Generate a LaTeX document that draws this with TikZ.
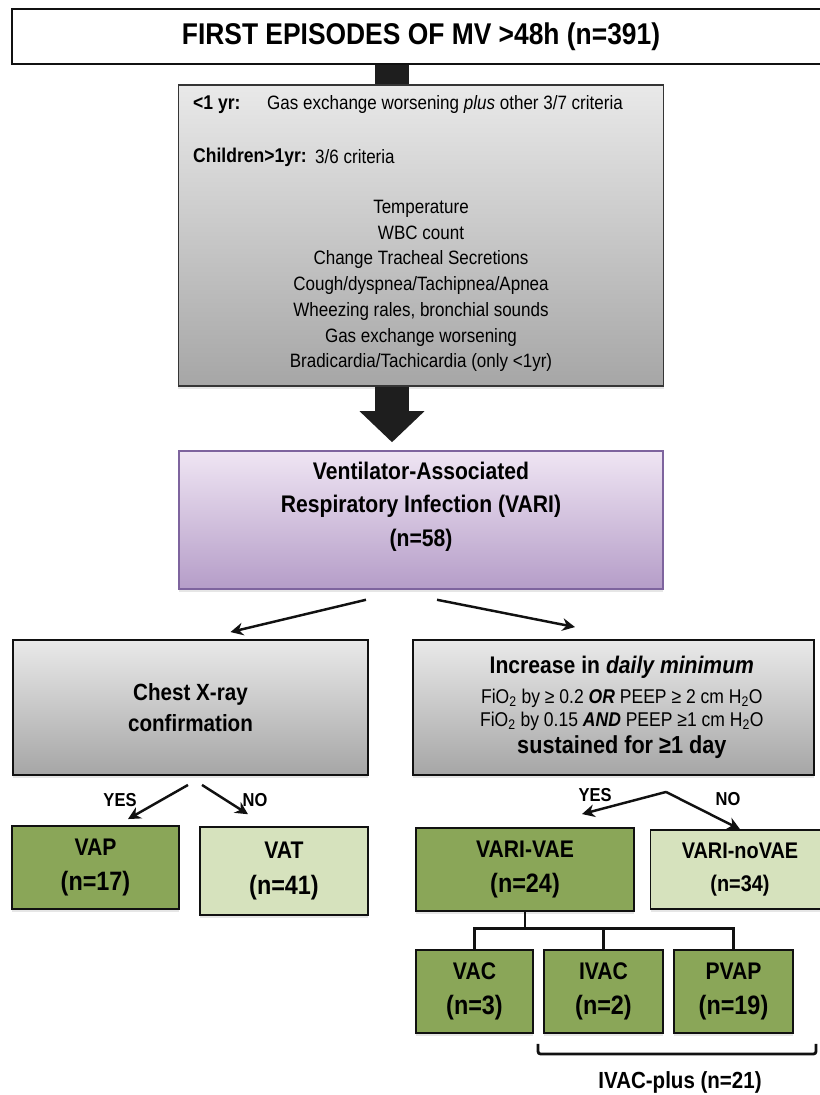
\documentclass[tikz,border=0pt]{standalone}
\usepackage{fontspec}
\setmainfont{Liberation Sans}[FakeStretch=0.88]
\usepackage{tikz}
\usepackage{xcolor}
\usetikzlibrary{arrows.meta,positioning,calc,shadows}
\definecolor{ink}{HTML}{111111}
\definecolor{arrowink}{HTML}{1E1E1E}
\definecolor{graytop}{HTML}{E9E9E9}
\definecolor{graybot}{HTML}{A6A6A6}
\definecolor{lilactop}{HTML}{EFE5F3}
\definecolor{lilacbot}{HTML}{B59DC8}
\definecolor{lilacline}{HTML}{7E649E}
\definecolor{olivedark}{HTML}{8AA658}
\definecolor{olivelight}{HTML}{D6E2BD}
\tikzset{
  boxshade/.style={drop shadow={shadow xshift=0pt,shadow yshift=-2.5pt,opacity=0.2}},
  titlebox/.style={draw=ink,fill=white,line width=1.8pt,inner sep=0pt,
                   minimum width=24.54cm,minimum height=1.65cm,
                   font=\fontsize{25.6}{30}\selectfont\bfseries},
  critbox/.style={draw=ink!85,top color=graytop,bottom color=graybot,line width=1.2pt,
                  minimum width=14.55cm,minimum height=9.03cm,inner sep=0pt,boxshade},
  crittag/.style={inner sep=0pt,font=\fontsize{17}{20}\selectfont\bfseries},
  crittext/.style={inner sep=0pt,font=\fontsize{16.5}{22}\selectfont},
  varibox/.style={draw=lilacline,top color=lilactop,bottom color=lilacbot,line width=1.3pt,
                  minimum width=14.52cm,minimum height=4.14cm,inner sep=0pt,boxshade},
  varitext/.style={inner sep=0pt,align=center,font=\fontsize{20.5}{28.6}\selectfont\bfseries},
  graybox/.style={draw=ink,top color=graytop,bottom color=graybot,line width=1.6pt,
                  minimum height=4.05cm,inner sep=0pt,align=center,boxshade,
                  font=\fontsize{20}{26.5}\selectfont\bfseries},
  olivebox/.style={draw=ink,fill=olivedark,line width=1.6pt,inner sep=0pt,align=center,
                   boxshade,font=\fontsize{20.5}{30}\selectfont\bfseries},
  palebox/.style={draw=ink,fill=olivelight,line width=1.3pt,inner sep=0pt,align=center,
                  boxshade,font=\fontsize{20.5}{30}\selectfont\bfseries},
  answer/.style={inner sep=0pt,font=\fontsize{16}{18}\selectfont\bfseries},
  bracelabel/.style={inner sep=0pt,font=\fontsize{19.9}{22}\selectfont\bfseries},
  stemline/.style={line width=29pt,color=arrowink},
  bigarrow/.style={-{Triangle[length=9.3mm,width=18.9mm]},line width=29pt,color=arrowink},
  flowarr/.style={-{Stealth[length=3.8mm,width=3.8mm]},line width=2.1pt,color=ink},
  treeline/.style={line width=2.5pt,color=ink},
  bracketline/.style={line width=2.4pt,color=ink,rounded corners=2pt}
}
\newcommand{\countline}[1]{{\fontsize{22.7}{30}\selectfont #1}}
\begin{document}
\begin{tikzpicture}[x=0.03cm,y=-0.03cm]
  \useasboundingbox (0,0) rectangle (820,1095);
  \node[titlebox] (title) at (421,36.5) {FIRST EPISODES OF MV >48h (n=391)};
  \node[critbox] (crit) at (421,235.5) {};
  \node[crittag,anchor=west] (infanttag) at (193,105) {<1 yr:};
  \node[crittext,anchor=west] (infantrule) at (267,105) {Gas exchange worsening \textit{plus} other 3/7 criteria};
  \node[crittag,anchor=west] (childtag) at (193,157) {Children>1yr:};
  \node[crittext,anchor=west] (childrule) at (315,157) {3/6 criteria};
  \node[crittext,align=center] (signs) at (421,286) {Temperature\\WBC count\\Change Tracheal Secretions\\
    Cough/dyspnea/Tachipnea/Apnea\\Wheezing rales, bronchial sounds\\Gas exchange worsening\\
    Bradicardia/Tachicardia (only <1yr)};
  \node[varibox] (vari) at (421,520) {};
  \node[varitext] (varilabel) at (421,506.5) {Ventilator-Associated\\Respiratory Infection (VARI)\\(n=58)};
  \draw[stemline] ([xshift=-0.87cm]title.south) -- ([xshift=-0.87cm]crit.north);
  \draw[bigarrow,shorten >=0.24cm] ([xshift=-0.87cm]crit.south) -- ([xshift=-0.87cm]vari.north);

  \node[graybox,minimum width=10.65cm] (chest) at (190.5,707.5) {Chest X-ray\\confirmation};
  \node[graybox,minimum width=12.03cm,font=\fontsize{17}{19.6}\selectfont] (dmin) at (613.5,707.5)
    {\hspace*{0.5cm}{\fontsize{20.5}{19.6}\selectfont\bfseries Increase in \textit{daily minimum}}\\[6pt]
     \hspace*{0.5cm}FiO\textsubscript{2} by ≥ 0.2 \textbf{\textit{OR}} PEEP ≥ 2 cm H\textsubscript{2}O\\
     \hspace*{0.5cm}FiO\textsubscript{2} by 0.15 \textbf{\textit{AND}} PEEP ≥1 cm H\textsubscript{2}O\\[3.4pt]
     \hspace*{0.5cm}{\fontsize{21}{19.6}\selectfont\bfseries sustained for ≥1 day}};
  \draw[flowarr] ($(vari.south)+(-55,10)$) -- ($(chest.north)+(40,-7)$);
  \draw[flowarr] ($(vari.south)+(16,10)$) -- ($(dmin.north)+(-38.5,-12)$);

  \node[olivebox,minimum width=5.01cm,minimum height=2.49cm] (vap) at (95.5,867.5) {VAP\\\countline{(n=17)}};
  \node[palebox,minimum width=5.04cm,minimum height=2.64cm] (vat) at (284,871) {VAT\\\countline{(n=41)}};
  \draw[flowarr] ($(chest.south)+(-2.5,9)$) -- ($(vap.north)+(32.5,-6)$);
  \draw[flowarr] ($(chest.south)+(11.5,9)$) -- ($(vat.north)+(-36,-12)$);
  \node[answer] (yesleft) at (120,800) {YES};
  \node[answer] (noleft) at (255,800) {NO};

  \node[olivebox,minimum width=6.54cm,minimum height=2.49cm] (vae) at (525,869.5) {VARI-VAE\\\countline{(n=24)}};
  \node[palebox,minimum width=5.37cm,minimum height=2.37cm,font=\fontsize{19.3}{28}\selectfont\bfseries]
    (novae) at (740,869.5) {VARI-noVAE\\(n=34)};
  \coordinate (split) at ($(dmin.south)+(52.5,16)$);
  \draw[flowarr] (split) -- ($(vae.north)+(57,-13)$);
  \draw[flowarr] (split) -- (novae.north);
  \node[answer] (yesright) at (595,795) {YES};
  \node[answer] (noright) at (728,799) {NO};

  \node[olivebox,minimum width=3.51cm,minimum height=2.49cm] (vac) at (474.5,991.5) {VAC\\\countline{(n=3)}};
  \node[olivebox,minimum width=3.57cm,minimum height=2.49cm] (ivac) at (603.5,991.5) {IVAC\\\countline{(n=2)}};
  \node[olivebox,minimum width=3.57cm,minimum height=2.49cm] (pvap) at (733.5,991.5) {PVAP\\\countline{(n=19)}};
  \coordinate (fork) at ($(vae.south)+(0,17)$);
  \draw[treeline] (vae.south) -- (fork);
  \draw[treeline] (vac.north) |- (fork) -| (pvap.north);
  \draw[treeline] (ivac.north) -- (ivac.north |- fork);
  \draw[bracketline] ($(ivac.south west)+(-5,10)$) -- ++(0,10) -| ($(pvap.south east)+(22,10)$);
  \node[bracelabel] (ivacplus) at (680,1082) {IVAC-plus (n=21)};
\end{tikzpicture}
\end{document}
